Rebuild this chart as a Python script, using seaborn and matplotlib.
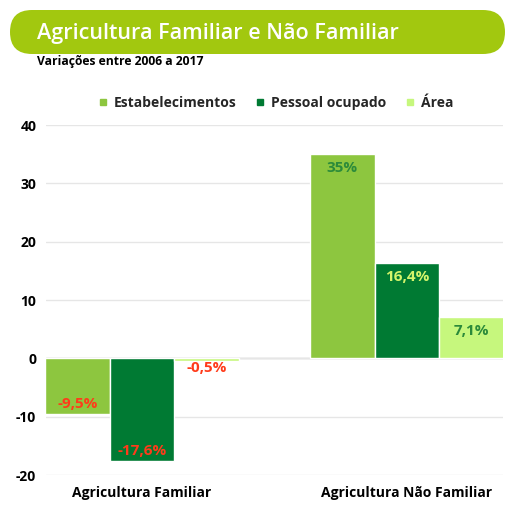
import matplotlib
matplotlib.use("Agg")
import matplotlib.pyplot as plt
from matplotlib.patches import FancyBboxPatch
from matplotlib.lines import Line2D
import seaborn as sns
import pandas as pd

categories = ['Agricultura Familiar', 'Agricultura Não Familiar']
series = ['Estabelecimentos', 'Pessoal ocupado', 'Área']
estabelecimentos = [-9.5, 35.0]
pessoal = [-17.6, 16.4]
area = [-0.5, 7.1]
value_labels = [['-9,5%', '35%'], ['-17,6%', '16,4%'], ['-0,5%', '7,1%']]
yticks = [-20, -10, 0, 10, 20, 30, 40]

colors = ['#8dc63f', '#007a33', '#c6f77d']
label_colors = [['#ff3b1a', '#2b8a3a'], ['#ff3b1a', '#d4f56b'], ['#ff3b1a', '#2b8a3a']]

df = pd.DataFrame({
    'categoria': categories * 3,
    'serie': [s for s in series for _ in categories],
    'valor': estabelecimentos + pessoal + area,
})

sns.set_theme(style="white")
plt.rcParams['font.family'] = ['Open Sans', 'DejaVu Sans']

fig = plt.figure(figsize=(5.12, 5.11), dpi=100)
ax = fig.add_axes([46 / 512, 36 / 511, 457 / 512, 350 / 511])

sns.barplot(data=df, x='categoria', y='valor', hue='serie', order=categories,
            hue_order=series, palette=colors, width=0.73, ax=ax,
            edgecolor='white', linewidth=1, legend=False, saturation=1)

ax.set_xlim(-0.3625, 1.3625)
ax.set_ylim(-20, 40)
ax.set_yticks(yticks)
ax.set_yticklabels([str(t) for t in yticks], fontsize=10, fontweight='bold', color='black')
ax.set_xticklabels(categories, fontsize=10, fontweight='bold', color='black')
ax.tick_params(axis='x', length=0, pad=8)
ax.tick_params(axis='y', length=0, pad=7)
ax.set_xlabel('')
ax.set_ylabel('')
for sp in ax.spines.values():
    sp.set_visible(False)
ax.yaxis.grid(True, color='#e6e6e6', linewidth=1)
ax.set_axisbelow(True)
ax.axhline(0, color='#bdbdbd', linewidth=1, zorder=0.5)

# value labels inside bar ends
for i, cont in enumerate(ax.containers):
    for j, bar in enumerate(cont):
        v = bar.get_height()
        x = bar.get_x() + bar.get_width() / 2
        off = -10 if v > 0 else 7
        if v < 0 and abs(v) < 2:
            off = -5
        ax.annotate(value_labels[i][j], (x, v), xytext=(0, off), textcoords='offset points',
                    ha='center', va='center', fontsize=11, fontweight='bold',
                    color=label_colors[i][j])

# legend
handles = [Line2D([0], [0], marker='s', linestyle='', markersize=5,
                  markerfacecolor=c, markeredgecolor=c) for c in colors]
ax.legend(handles, series, loc='center', bbox_to_anchor=(0.5, 1.063), ncol=3,
          frameon=False, prop={'weight': 'bold', 'size': 10}, handletextpad=0.3,
          columnspacing=1.2, handlelength=1)

# title banner
banner = FancyBboxPatch((10 / 512, 457 / 511), 495 / 512, 44 / 511,
                        boxstyle='round,pad=0,rounding_size=0.043',
                        transform=fig.transFigure, facecolor='#a2c80f',
                        edgecolor='none')
fig.patches.append(banner)
fig.text(37 / 512, 477 / 511, 'Agricultura Familiar e Não Familiar', color='white',
         fontsize=15.5, fontweight='semibold', va='center', ha='left')
fig.text(37 / 512, 449 / 511, 'Variações entre 2006 a 2017', color='black',
         fontsize=8.7, fontweight='bold', va='center', ha='left')

fig.savefig('out.png', dpi=100)
